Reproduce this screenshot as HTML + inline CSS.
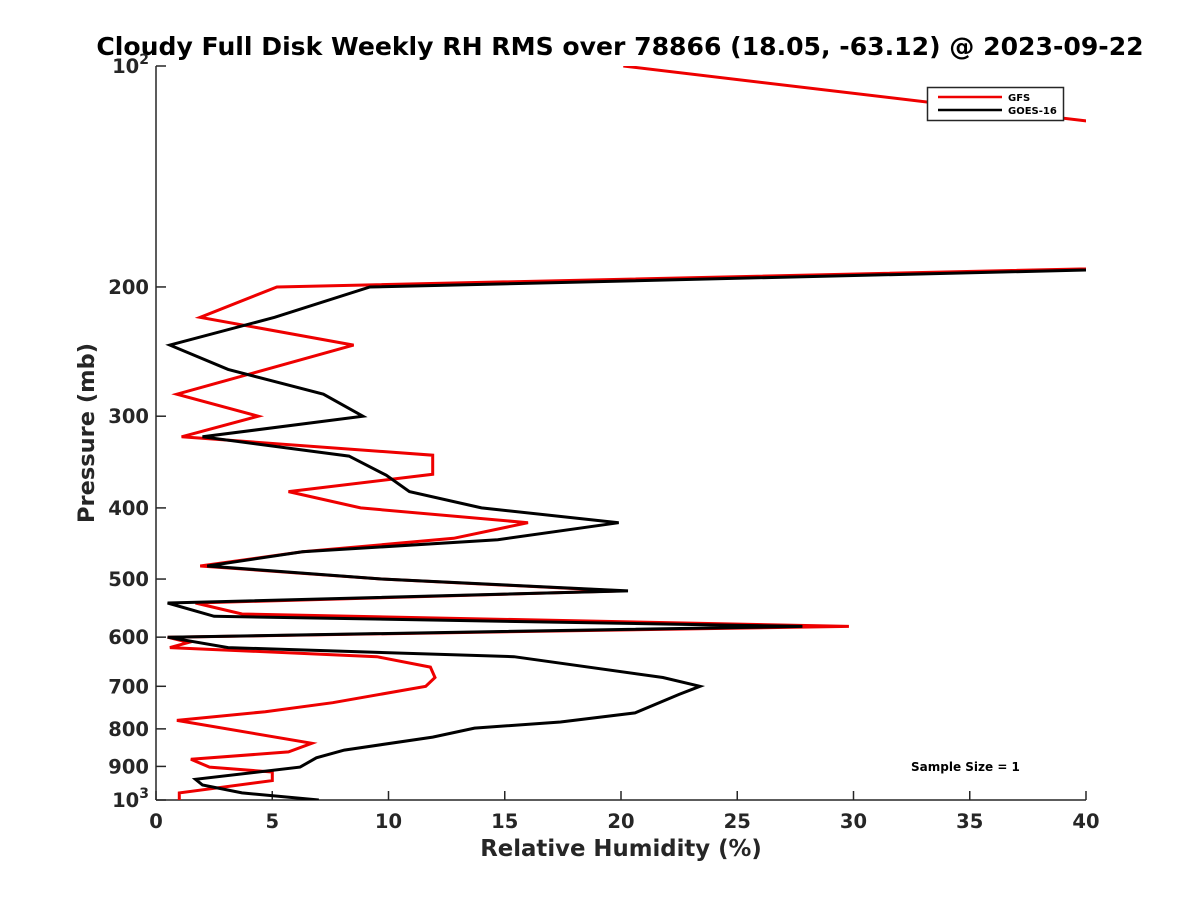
<!DOCTYPE html>
<html><head><meta charset="utf-8"><style>
html,body{margin:0;padding:0;background:#fff;}
svg text{font-family:"DejaVu Sans","Liberation Sans",sans-serif;font-weight:bold;}
</style></head><body>
<svg id="chart" width="1200" height="900" viewBox="0 0 1200 900" xmlns="http://www.w3.org/2000/svg">
<rect width="1200" height="900" fill="#fff"/>
<defs><clipPath id="plotclip"><rect x="156" y="66" width="930" height="734"/></clipPath></defs>
<text x="620" y="55" text-anchor="middle" font-size="25.1" fill="#000">Cloudy Full Disk Weekly RH RMS over 78866 (18.05, -63.12) @ 2023-09-22</text>
<g id="axes"></g>
<g id="series" clip-path="url(#plotclip)"></g>
<text x="621" y="856" text-anchor="middle" font-size="22.8" fill="#262626">Relative Humidity (%)</text>
<text transform="translate(94,433) rotate(-90)" text-anchor="middle" font-size="22.5" fill="#262626">Pressure (mb)</text>
<text x="911" y="771" font-size="12" fill="#000">Sample Size = 1</text>
<g>
<rect x="927.5" y="87.5" width="136" height="33" fill="#fff" stroke="#262626" stroke-width="1.5"/>
<line x1="938" y1="97" x2="1002" y2="97" stroke="#e00" stroke-width="2.5"/>
<text x="1008" y="101" font-size="10" fill="#000">GFS</text>
<line x1="938" y1="110" x2="1002" y2="110" stroke="#000" stroke-width="2.5"/>
<text x="1008" y="114" font-size="10" fill="#000">GOES-16</text>
</g>
</svg>
<script>
const xTicks = [0,5,10,15,20,25,30,35,40];
const yTicks = [100,200,300,400,500,600,700,800,900,1000];
const yTickLabels = ["10^2","200","300","400","500","600","700","800","900","10^3"];
const gfsP  = [100,118.8,177,200,220,240,280,300,320,339,360,380,400,419,440,459,480,500,519,539,558,580,600,610,620,638,659,681,700,737,758,779,837,860,880,902,916,941,978,1000];
const gfsRH = [20.1,40,80,5.2,1.9,8.5,0.9,4.4,1.1,11.9,11.9,5.7,8.8,16.0,12.8,6.3,1.9,9.7,20.0,1.7,3.7,29.8,0.5,1.4,0.6,9.5,11.8,12.0,11.6,7.6,4.7,0.9,6.7,5.7,1.5,2.3,5.0,5.0,1.0,1.0];
const goesP  = [177,200,220,240,259,280,300,320,340,361,380,400,419,442,459,480,500,519,539,562,580,600,620,638,681,700,718,761,783,798,821,855,876,902,937,954,978,1000];
const goesRH = [80,9.2,5.1,0.6,3.1,7.2,8.9,2.0,8.3,9.9,10.9,14.0,19.9,14.7,6.3,2.2,9.7,20.3,0.5,2.5,27.8,0.5,3.1,15.4,21.8,23.4,22.5,20.6,17.4,13.7,11.9,8.1,6.9,6.2,1.7,2.0,3.7,7.0];
const X0=156,X1=1086,Y0=66,Y1=800;
const xs=v=>X0+(v/40)*(X1-X0);
const ys=p=>Y0+(Math.log10(p)-2)*(Y1-Y0);
const NS="http://www.w3.org/2000/svg";
const axes=document.getElementById('axes');
const series=document.getElementById('series');
function mk(tag,attrs,parent){const e=document.createElementNS(NS,tag);for(const k in attrs)e.setAttribute(k,attrs[k]);parent.appendChild(e);return e;}
const yAxis=mk('line',{x1:X0,y1:Y0,x2:X0,y2:Y1,stroke:'#262626','stroke-width':1.5},axes);


const xAxis=mk('line',{x1:X0,y1:Y1,x2:X1,y2:Y1,stroke:'#262626','stroke-width':1.5},axes);


xTicks.forEach(v=>{
  const t=mk('line',{x1:xs(v),y1:Y1,x2:xs(v),y2:Y1-9,stroke:'#262626','stroke-width':1.5},axes);
  
  
  const l=mk('text',{x:xs(v),y:Y1+28,'text-anchor':'middle','font-size':19.5,fill:'#262626'},axes);
  
  
  l.textContent=String(v);
});
yTicks.forEach((p,i)=>{
  const y=ys(p);
  const t=mk('line',{x1:X0,y1:y,x2:X0+10,y2:y,stroke:'#262626','stroke-width':1.5},axes);
  
  
  const lab=yTickLabels[i];
  const l=mk('text',{x:X0-7,y:y+7,'text-anchor':'end','font-size':19.5,fill:'#262626'},axes);
  
  
  if(lab.indexOf('^')>=0){
    const parts=lab.split('^');
    const a=mk('tspan',{},l);a.textContent=parts[0];
    const b=mk('tspan',{dy:-9,'font-size':14},l);b.textContent=parts[1];
  } else l.textContent=lab;
});
function drawLine(P,R,color,name){
  const d=P.map((p,i)=>(i?'L':'M')+xs(R[i]).toFixed(1)+','+ys(p).toFixed(1)).join(' ');
  const path=mk('path',{d:d,fill:'none',stroke:color,'stroke-width':3,'stroke-linejoin':'miter'},series);
  
  
}
drawLine(gfsP,gfsRH,'#e00','gfs-line');
drawLine(goesP,goesRH,'#000','goes16-line');
</script>
</body></html>
